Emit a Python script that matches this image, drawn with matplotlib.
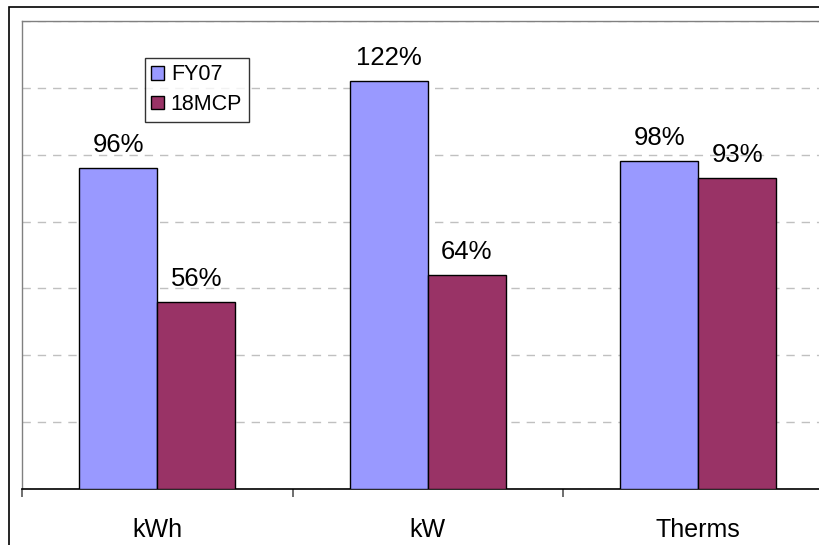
import numpy as np
import matplotlib
matplotlib.use("Agg")
from matplotlib import pyplot as plt
from matplotlib.patches import Rectangle

plt.rcParams['font.family'] = ['Liberation Sans', 'DejaVu Sans']

# Data
categories = ["kWh", "kW", "Therms"]
fy07 = [96, 122, 98]
mcp18 = [56, 64, 93]
series_names = ["FY07", "18MCP"]
colors = ["#9999FF", "#993366"]

W, H = 819, 545
fig = plt.figure(figsize=(W / 100, H / 100), dpi=100)

# chart area border (runs off the right and bottom edges)
fig.patches.append(Rectangle((9 / W, -0.1), 1.2, (H - 7) / H + 0.1,
                             transform=fig.transFigure, fill=False,
                             edgecolor="black", linewidth=1.2, zorder=0))

ax = fig.add_axes([22 / W, 56 / H, 811.5 / W, 468 / H])

x = np.arange(len(categories))
width = 0.288
bars1 = ax.bar(x - width / 2, fy07, width, color=colors[0], edgecolor="black",
               linewidth=1.0, label=series_names[0], zorder=3)
bars2 = ax.bar(x + width / 2, mcp18, width, color=colors[1], edgecolor="black",
               linewidth=1.0, label=series_names[1], zorder=3)

for bars, vals in [(bars1, fy07), (bars2, mcp18)]:
    for b, v in zip(bars, vals):
        ax.annotate(f"{v}%", (b.get_x() + b.get_width() / 2, v),
                    xytext=(0, 11.5), textcoords="offset points",
                    ha="center", va="baseline", fontsize=18.5, zorder=4)

ax.set_xlim(-0.5, 2.5)
ax.set_ylim(0, 140)
ax.set_yticks(np.arange(0, 141, 20))
ax.set_yticklabels([])
ax.tick_params(axis="y", length=0)
ax.grid(axis="y", linestyle=(0, (6, 5)), color="#c0c0c0", linewidth=1.0, zorder=0)

ax.set_xticks(x)
ax.set_xticklabels(categories, fontsize=18)
ax.tick_params(axis="x", which="major", length=0, pad=21)
ax.set_xticks([-0.5, 0.5, 1.5, 2.5], minor=True)
ax.tick_params(axis="x", which="minor", length=6, width=1.2, color="#555555")

for side in ["left", "top"]:
    ax.spines[side].set_color("#808080")
    ax.spines[side].set_linewidth(1.0)
ax.spines["right"].set_visible(False)
ax.spines["bottom"].set_color("black")
ax.spines["bottom"].set_linewidth(1.2)

leg = ax.legend(loc="upper left", bbox_to_anchor=(123 / 811.5, 1 - 37 / 468),
                fontsize=15.5, frameon=True, fancybox=False, borderpad=0.3,
                handlelength=0.6, handleheight=0.6, handletextpad=0.3,
                labelspacing=0.4, borderaxespad=0)
leg.get_frame().set_edgecolor("black")
leg.get_frame().set_linewidth(1.0)

fig.savefig("out.png", dpi=100)
